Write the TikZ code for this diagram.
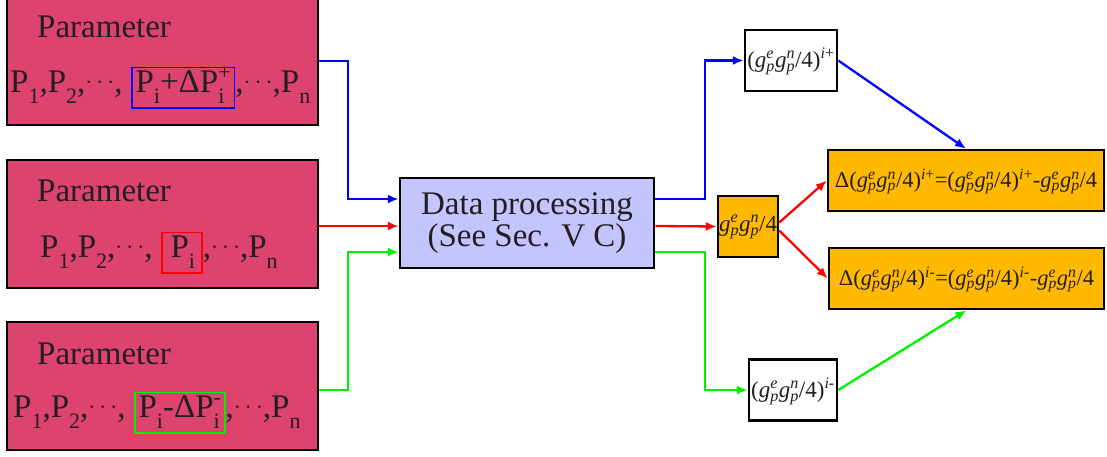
\documentclass[tikz,border=0pt]{standalone}
\usepackage{fontspec}
\setmainfont{Liberation Serif}
\usetikzlibrary{positioning,arrows.meta}
\definecolor{parcol}{RGB}{220,67,111}
\definecolor{proccol}{RGB}{196,196,255}
\definecolor{orcol}{RGB}{255,185,0}
\definecolor{txtcol}{RGB}{35,31,32}
\definecolor{grncol}{RGB}{0,240,0}
\newcommand\lsub[1]{\raisebox{-11pt}{\fontsize{22}{22}\selectfont #1}}
\newcommand\lsup[1]{\raisebox{13pt}{\fontsize{22}{22}\selectfont #1}}
\newcommand\lsubsup[2]{{\ooalign{\lsub{#1}\cr\lsup{#2}\cr}}}
\newcommand\dts{\raisebox{4pt}{$\cdots$}}
\newcommand\hbx[2]{{\color{#1}\fboxrule=1.7pt\fboxsep=3pt\fbox{{\color{txtcol}\rule[-11pt]{0pt}{24pt}#2}}}}
\newcommand\gpr[1]{\textit{g}{\ooalign{\textsubscript{\textit{p}}\cr\textsuperscript{\textit{#1}}\cr}}}
\begin{document}
\begin{tikzpicture}[x=1pt,y=1pt,
parm/.style={draw, line width=2.5pt, fill=parcol, minimum width=311pt, minimum height=128pt, inner sep=0pt},
txt/.style={anchor=base west, inner sep=0pt, text=txtcol, font=\fontsize{33}{35}\selectfont},
proc/.style={draw, line width=2.5pt, fill=proccol, minimum width=254pt, minimum height=90pt, align=center, text=txtcol, font=\fontsize{33}{32}\selectfont},
valu/.style={draw, line width=2.5pt, fill=white, inner sep=0pt, text=txtcol, minimum height=61pt, font=\fontsize{23}{25}\selectfont},
diff/.style={valu, fill=orcol},
lnk/.style={line width=2.3pt, -{Latex[length=11pt,width=9pt]}}
]
\useasboundingbox (0,0) rectangle (1107,457);

\node[parm] at (162.5,396) (par1) {};
\node[parm] at (162.5,233) (par2) {};
\node[parm] at (162.5,71) (par3) {};

\node[txt] at (37,419) (nam1) {Parameter};
\node[txt] at (10,364) (lst1) {P\lsub{1},P\lsub{2},\dts, \hbx{blue}{P\lsub{i}+ΔP\lsubsup{i}{+}},\dts,P\lsub{n}};
\node[txt] at (37,255) (nam2) {Parameter};
\node[txt] at (40,199) (lst2) {P\lsub{1},P\lsub{2},\dts, \hbx{red}{\hspace{5pt}P\lsub{i}\hspace{3pt}},\dts,P\lsub{n}};
\node[txt] at (37,92) (nam3) {Parameter};
\node[txt] at (13,39) (lst3) {P\lsub{1},P\lsub{2},\dts, \hbx{grncol}{P\lsub{i}-ΔP\lsubsup{i}{-}},\dts,P\lsub{n}};

\node[proc] at (527,234) (dat) {Data processing\\(See Sec. V C)};

\node[valu, minimum width=92pt] at (791,396.5) (ip) {(\gpr{e}\gpr{n}/4)\textsuperscript{\textit{i}+}};
\node[valu, minimum width=88pt] at (793,67) (im) {(\gpr{e}\gpr{n}/4)\textsuperscript{\textit{i}-}};
\node[diff, minimum width=60pt] at (748,230.5) (gz) {\gpr{e}\gpr{n}/4};
\node[diff, minimum width=276pt, font=\fontsize{22.5}{24}\selectfont] at (966,276.5) (dp) {Δ(\gpr{e}\gpr{n}/4)\textsuperscript{\textit{i}+}=(\gpr{e}\gpr{n}/4)\textsuperscript{\textit{i}+}-\gpr{e}\gpr{n}/4};
\node[diff, minimum width=275pt, font=\fontsize{22.5}{24}\selectfont] at (966.5,178.5) (dm) {Δ(\gpr{e}\gpr{n}/4)\textsuperscript{\textit{i}-}=(\gpr{e}\gpr{n}/4)\textsuperscript{\textit{i}-}-\gpr{e}\gpr{n}/4};

\draw[lnk, blue] (par1.east) -- ++(29,0) |- ([yshift=24pt]dat.west);
\draw[lnk, red] ([yshift=-2pt]par2.east) -- ([yshift=-3pt]dat.west);
\draw[lnk, grncol] ([yshift=-4pt]par3.east) -- ++(29,0) |- ([yshift=-29pt]dat.west);

\draw[lnk, blue] ([yshift=24pt]dat.east) -- ++(50,0) |- (ip.west);
\draw[lnk, red] ([yshift=-3pt]dat.east) -- (gz.west);
\draw[lnk, grncol] ([yshift=-29pt]dat.east) -- ++(50,0) |- (im.west);

\draw[lnk, red] ([yshift=4pt]gz.east) -- (dp.west);
\draw[lnk, red] ([yshift=-4pt]gz.east) -- (dm.west);
\draw[lnk, blue] (ip.east) -- (dp.north);
\draw[lnk, grncol] (im.east) -- (dm.south);
\end{tikzpicture}
\end{document}
